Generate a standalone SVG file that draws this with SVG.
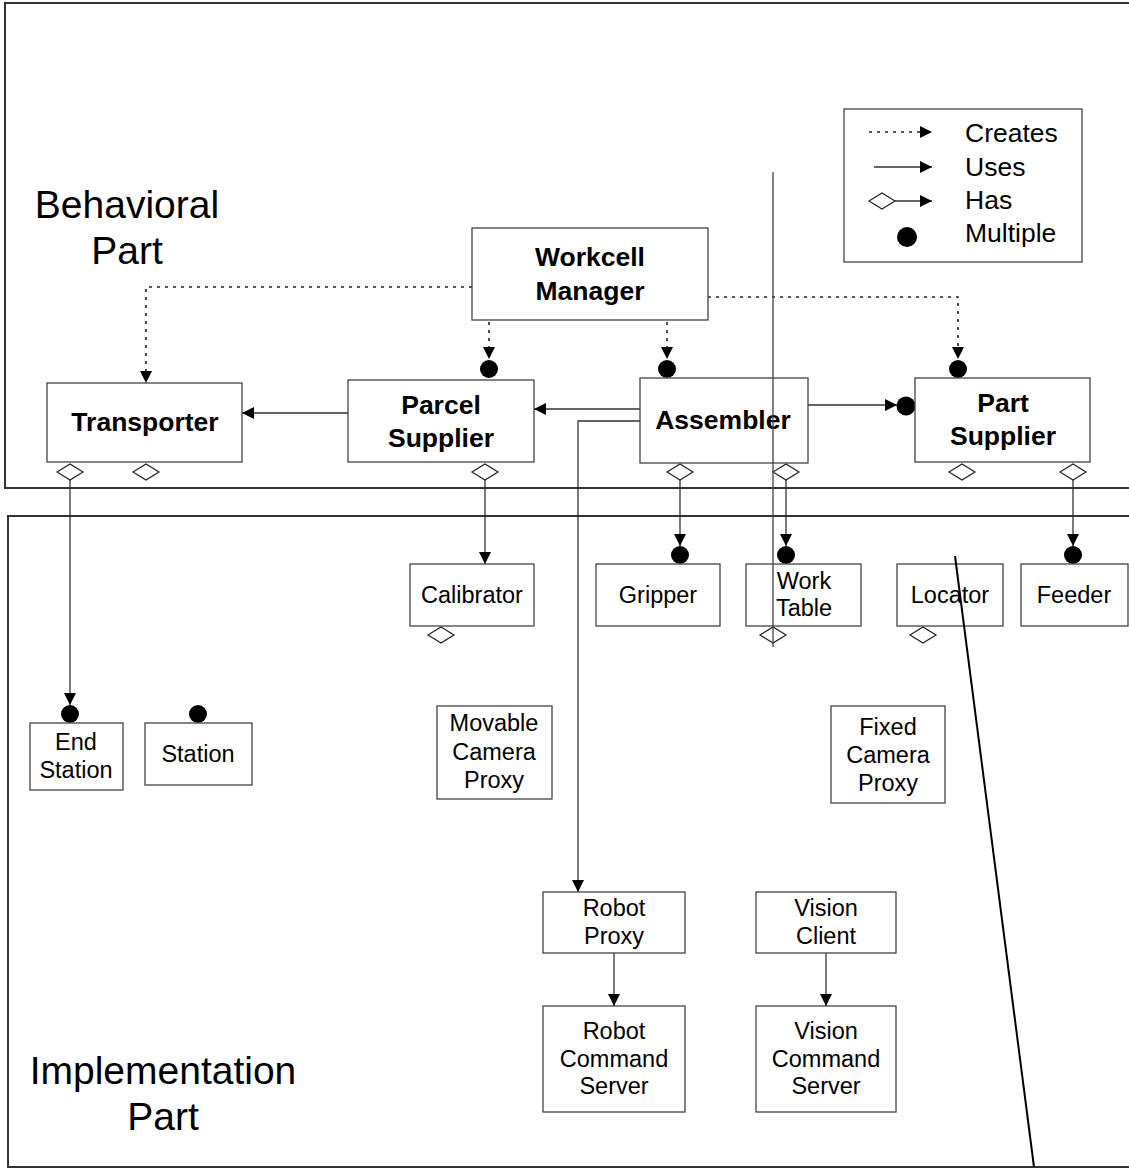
<svg xmlns="http://www.w3.org/2000/svg" width="1129" height="1170" viewBox="0 0 1129 1170">
<defs>
<marker id="arr" markerUnits="userSpaceOnUse" markerWidth="12" markerHeight="12" viewBox="0 0 12 12" refX="12" refY="6" orient="auto">
<path d="M0,0 L12,6 L0,12 Z" fill="#000"/>
</marker>
</defs>
<style>
.frame{fill:none;stroke:#333;stroke-width:2}
.box{fill:#fff;stroke:#444;stroke-width:1.3}
.c{fill:none;stroke:#333;stroke-width:1.3}
.d{fill:none;stroke:#222;stroke-width:1.6;stroke-dasharray:3,5}
.dia{fill:#fff;stroke:#222;stroke-width:1.2}
.dot{fill:#000}
.t{font-family:"Liberation Sans",Arial,sans-serif;font-size:23.5px;fill:#000;text-anchor:middle}
.b{font-family:"Liberation Sans",Arial,sans-serif;font-size:26.5px;font-weight:bold;fill:#000;text-anchor:middle}
.big{font-family:"Liberation Sans",Arial,sans-serif;font-size:39px;fill:#000;text-anchor:middle}
.lg{font-family:"Liberation Sans",Arial,sans-serif;font-size:26.5px;fill:#000}
</style>
<rect width="1129" height="1170" fill="#fff"/>
<g id="frames">
<rect class="frame" x="5" y="3" width="1140" height="485"/>
<rect class="frame" x="8" y="516" width="1140" height="651"/>
</g>
<g id="labels">
<text class="big" x="127" y="218">Behavioral</text>
<text class="big" x="127" y="264">Part</text>
<text class="big" x="163" y="1084">Implementation</text>
<text class="big" x="163" y="1130">Part</text>
</g>
<g id="legend">
<rect class="box" x="844" y="109" width="238" height="153"/>
<line class="d" x1="869" y1="132" x2="932" y2="132" marker-end="url(#arr)"/>
<line class="c" x1="874" y1="167" x2="932" y2="167" marker-end="url(#arr)"/>
<polygon class="dia" points="869,201 882,193 895,201 882,209"/>
<line class="c" x1="895" y1="201" x2="932" y2="201" marker-end="url(#arr)"/>
<circle class="dot" cx="907" cy="237" r="10"/>
<text class="lg" x="965" y="142">Creates</text>
<text class="lg" x="965" y="176">Uses</text>
<text class="lg" x="965" y="209">Has</text>
<text class="lg" x="965" y="242">Multiple</text>
</g>
<g id="connectors">
<path class="d" d="M472,287 H146 V383" marker-end="url(#arr)"/>
<path class="d" d="M489,322 V359" marker-end="url(#arr)"/>
<path class="d" d="M667,322 V359" marker-end="url(#arr)"/>
<path class="d" d="M708,297 H958 V359" marker-end="url(#arr)"/>
<circle class="dot" cx="489" cy="369" r="9"/>
<circle class="dot" cx="667" cy="369" r="9"/>
<circle class="dot" cx="958" cy="369" r="9"/>
<path class="c" d="M348,413 H242" marker-end="url(#arr)"/>
<path class="c" d="M640,409 H534" marker-end="url(#arr)"/>
<path class="c" d="M640,421 H578 V892" marker-end="url(#arr)"/>
<path class="c" d="M808,405 H897" marker-end="url(#arr)"/>
<circle class="dot" cx="906" cy="406" r="9.5"/>
<path class="c" d="M70,480 V705" marker-end="url(#arr)"/>
<circle class="dot" cx="70" cy="714" r="9"/>
<path class="c" d="M485,480 V564" marker-end="url(#arr)"/>
<path class="c" d="M680,480 V546" marker-end="url(#arr)"/>
<circle class="dot" cx="680" cy="555" r="9"/>
<path class="c" d="M786,480 V546" marker-end="url(#arr)"/>
<circle class="dot" cx="786" cy="555" r="9"/>
<path class="c" d="M1073,480 V546" marker-end="url(#arr)"/>
<circle class="dot" cx="1073" cy="555" r="9"/>
<path class="c" d="M614,953 V1006" marker-end="url(#arr)"/>
<path class="c" d="M826,953 V1006" marker-end="url(#arr)"/>
<circle class="dot" cx="198" cy="714" r="9"/>
<polygon class="dia" points="57,472 70,464 83,472 70,480"/>
<polygon class="dia" points="133,472 146,464 159,472 146,480"/>
<polygon class="dia" points="472,472 485,464 498,472 485,480"/>
<polygon class="dia" points="667,472 680,464 693,472 680,480"/>
<polygon class="dia" points="773,472 786,464 799,472 786,480"/>
<polygon class="dia" points="949,472 962,464 975,472 962,480"/>
<polygon class="dia" points="1060,472 1073,464 1086,472 1073,480"/>
<polygon class="dia" points="428,635 441,627 454,635 441,643"/>
<polygon class="dia" points="760,635 773,627 786,635 773,643"/>
<polygon class="dia" points="910,635 923,627 936,635 923,643"/>
</g>
<g id="workcell-manager"><rect class="box" x="472" y="228" width="236" height="92"/><text class="b" x="590" y="266">Workcell</text><text class="b" x="590" y="300">Manager</text></g>
<g id="transporter"><rect class="box" x="47" y="383" width="195" height="79"/><text class="b" x="145" y="431">Transporter</text></g>
<g id="parcel-supplier"><rect class="box" x="348" y="380" width="186" height="82"/><text class="b" x="441" y="414">Parcel</text><text class="b" x="441" y="447">Supplier</text></g>
<g id="assembler"><rect class="box" x="640" y="378" width="168" height="85"/><text class="b" x="723" y="429">Assembler</text></g>
<g id="part-supplier"><rect class="box" x="915" y="378" width="175" height="84"/><text class="b" x="1003" y="412">Part</text><text class="b" x="1003" y="445">Supplier</text></g>
<g id="calibrator"><rect class="box" x="410" y="564" width="124" height="62"/><text class="t" x="472" y="603">Calibrator</text></g>
<g id="gripper"><rect class="box" x="596" y="564" width="124" height="62"/><text class="t" x="658" y="603">Gripper</text></g>
<g id="work-table"><rect class="box" x="746" y="564" width="115" height="62"/><text class="t" x="804" y="589">Work</text><text class="t" x="804" y="616">Table</text></g>
<g id="locator"><rect class="box" x="897" y="564" width="106" height="62"/><text class="t" x="950" y="603">Locator</text></g>
<g id="feeder"><rect class="box" x="1021" y="564" width="107" height="62"/><text class="t" x="1074" y="603">Feeder</text></g>
<g id="end-station"><rect class="box" x="30" y="723" width="93" height="67"/><text class="t" x="76" y="750">End</text><text class="t" x="76" y="778">Station</text></g>
<g id="station"><rect class="box" x="145" y="723" width="107" height="62"/><text class="t" x="198" y="762">Station</text></g>
<g id="movable-camera-proxy"><rect class="box" x="437" y="706" width="115" height="93"/><text class="t" x="494" y="731">Movable</text><text class="t" x="494" y="760">Camera</text><text class="t" x="494" y="788">Proxy</text></g>
<g id="fixed-camera-proxy"><rect class="box" x="831" y="706" width="114" height="97"/><text class="t" x="888" y="735">Fixed</text><text class="t" x="888" y="763">Camera</text><text class="t" x="888" y="791">Proxy</text></g>
<g id="robot-proxy"><rect class="box" x="543" y="892" width="142" height="61"/><text class="t" x="614" y="916">Robot</text><text class="t" x="614" y="944">Proxy</text></g>
<g id="vision-client"><rect class="box" x="756" y="892" width="140" height="61"/><text class="t" x="826" y="916">Vision</text><text class="t" x="826" y="944">Client</text></g>
<g id="robot-command-server"><rect class="box" x="543" y="1006" width="142" height="106"/><text class="t" x="614" y="1039">Robot</text><text class="t" x="614" y="1067">Command</text><text class="t" x="614" y="1094">Server</text></g>
<g id="vision-command-server"><rect class="box" x="756" y="1006" width="140" height="106"/><text class="t" x="826" y="1039">Vision</text><text class="t" x="826" y="1067">Command</text><text class="t" x="826" y="1094">Server</text></g>
<g id="overlay-lines">
<line x1="773" y1="172" x2="773" y2="647" stroke="#444" stroke-width="1.3"/>
<line x1="955" y1="556" x2="1034" y2="1167" stroke="#000" stroke-width="2"/>
</g>
</svg>
